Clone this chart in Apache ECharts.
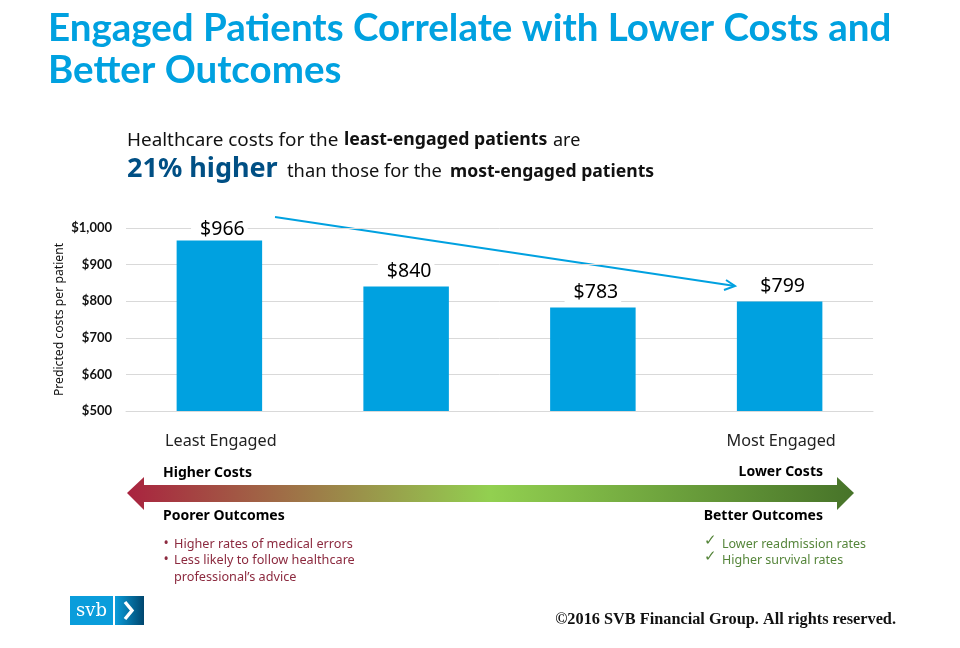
<!DOCTYPE html>
<html>
<head>
<meta charset="utf-8">
<title>Engaged Patients</title>
<style>
html, body { margin: 0; padding: 0; background: #fff; }
#chart { width: 960px; height: 648px; }
</style>
<script src="https://cdn.jsdelivr.net/npm/echarts@6/dist/echarts.min.js"></script>
</head>
<body>
<div id="chart"></div>
<script>
var categories = ['Least Engaged', '', '', 'Most Engaged'];
var costs = [966, 840, 783, 799];
var axisMin = 500;
var axisMax = 1000;
var axisStep = 100;

var titleLines = ['Engaged Patients Correlate with Lower Costs and', 'Better Outcomes'];
var poorerItems = ['Higher rates of medical errors', 'Less likely to follow healthcare', 'professional\u2019s advice'];
var betterItems = ['Lower readmission rates', 'Higher survival rates'];

var sans = '"Noto Sans", sans-serif';
var lato = 'Lato, sans-serif';
var blue = '#00a1e0';
var red = '#8c2a3f';
var green = '#55853a';

function label(x, y, text, size, weight, color, align, family) {
    return {
        type: 'text',
        x: x,
        y: y,
        style: {
            text: text,
            fontFamily: family || sans,
            fontSize: size,
            fontWeight: weight,
            fill: color,
            align: align || 'left',
            verticalAlign: 'middle'
        }
    };
}

var graphics = [
    label(48, 29, titleLines[0], 38.5, 700, blue, 'left', lato),
    label(48, 71, titleLines[1], 38.5, 700, blue, 'left', lato),
    label(127, 141, 'Healthcare costs for the', 18.9, 400, '#111'),
    label(344, 140, 'least-engaged patients', 17.7, 700, '#111'),
    label(553, 141, 'are', 18, 400, '#111'),
    label(127, 169, '21% higher', 27, 700, '#004f84'),
    label(287, 172, 'than those for the', 18.3, 400, '#111'),
    label(450, 172, 'most-engaged patients', 17.6, 700, '#111'),
    // trend arrow over the bars
    {
        type: 'line',
        shape: { x1: 275, y1: 217, x2: 735, y2: 286 },
        style: { stroke: blue, lineWidth: 2 }
    },
    {
        type: 'polyline',
        shape: { points: [[726, 280], [735, 286], [724, 290]] },
        style: { stroke: blue, lineWidth: 2, fill: null }
    },
    // gradient double arrow
    {
        type: 'polygon',
        shape: {
            points: [[127, 493], [144, 477], [144, 485], [837, 485], [837, 477], [854, 493], [837, 510], [837, 502], [144, 502], [144, 510]]
        },
        style: {
            fill: new echarts.graphic.LinearGradient(0, 0, 1, 0, [
                { offset: 0, color: '#a9233f' },
                { offset: 0.5, color: '#92d050' },
                { offset: 1, color: '#477329' }
            ])
        }
    },
    label(163, 473, 'Higher Costs', 14, 700, '#000'),
    label(163, 516, 'Poorer Outcomes', 14, 700, '#000'),
    label(823, 472, 'Lower Costs', 14, 700, '#000', 'right'),
    label(823, 516, 'Better Outcomes', 14, 700, '#000', 'right'),
    label(163.5, 544, '\u2022', 14, 400, red),
    label(163.5, 560, '\u2022', 14, 400, red),
    label(174, 544, poorerItems[0], 12.7, 400, red),
    label(174, 560, poorerItems[1], 12.7, 400, red),
    label(174, 577, poorerItems[2], 12.7, 400, red),
    label(704, 541, '\u2713', 15, 400, green),
    label(704, 557, '\u2713', 15, 400, green),
    label(722, 544, betterItems[0], 12.5, 400, green),
    label(722, 560, betterItems[1], 12.5, 400, green),
    // logo
    { type: 'rect', shape: { x: 70, y: 596, width: 43, height: 29 }, style: { fill: '#0a9ddb' } },
    {
        type: 'rect',
        shape: { x: 115, y: 596, width: 29, height: 29 },
        style: {
            fill: new echarts.graphic.LinearGradient(0, 0, 1, 0, [
                { offset: 0, color: '#0a9ddb' },
                { offset: 1, color: '#00466e' }
            ])
        }
    },
    {
        type: 'polyline',
        shape: { points: [[125, 602], [132, 610.5], [125, 619]] },
        style: { stroke: '#fff', lineWidth: 3.4, fill: null }
    },
    {
        type: 'text', x: 91.5, y: 611,
        style: {
            text: 'svb', fontFamily: '"DejaVu Serif", serif', fontSize: 18, fill: '#fff',
            align: 'center', verticalAlign: 'middle'
        }
    },
    {
        type: 'text', x: 896, y: 620,
        style: {
            text: '\u00a92016 SVB Financial Group. All rights reserved.',
            fontFamily: '"Liberation Serif", serif', fontSize: 16.3, fontWeight: 700, fill: '#111',
            align: 'right', verticalAlign: 'middle'
        }
    }
];

// the first label sits closer to its bar than the others
var barData = costs.map(function (v, i) {
    return {
        value: v,
        label: i === 0 ? { distance: 1, padding: [0, 3, 0, 9] } : { distance: 3 }
    };
});

var chart = echarts.init(document.getElementById('chart'));
chart.setOption({
    animation: false,
    backgroundColor: '#fff',
    grid: { left: 126, right: 87, top: 228, height: 183 },
    xAxis: {
        type: 'category',
        data: categories,
        axisTick: { show: false },
        axisLine: { lineStyle: { color: '#d9d9d9', width: 1 } },
        axisLabel: { color: '#222', fontFamily: sans, fontSize: 16.2, margin: 22, interval: 0, padding: [0, 0, 0, 3] }
    },
    yAxis: {
        type: 'value',
        min: axisMin,
        max: axisMax,
        interval: axisStep,
        name: 'Predicted costs per patient',
        nameLocation: 'middle',
        nameGap: 60,
        nameMoveOverlap: false,
        nameTextStyle: { color: '#111', fontFamily: sans, fontSize: 12.2 },
        axisLine: { show: false },
        axisTick: { show: false },
        splitLine: { lineStyle: { color: '#d9d9d9', width: 1 } },
        axisLabel: {
            color: '#111', fontFamily: lato, fontSize: 13, fontWeight: 700, margin: 14,
            formatter: function (v) { return '$' + echarts.format.addCommas(v); }
        }
    },
    series: [{
        type: 'bar',
        data: barData,
        barWidth: 85.5,
        itemStyle: { color: blue },
        label: {
            show: true,
            position: 'top',
            color: '#000',
            fontFamily: sans,
            fontSize: 19.5,
            backgroundColor: '#fff',
            padding: [0, 3, 2, 9],
            formatter: function (p) { return '$' + p.value; }
        }
    }],
    graphic: graphics
});
</script>
</body>
</html>
